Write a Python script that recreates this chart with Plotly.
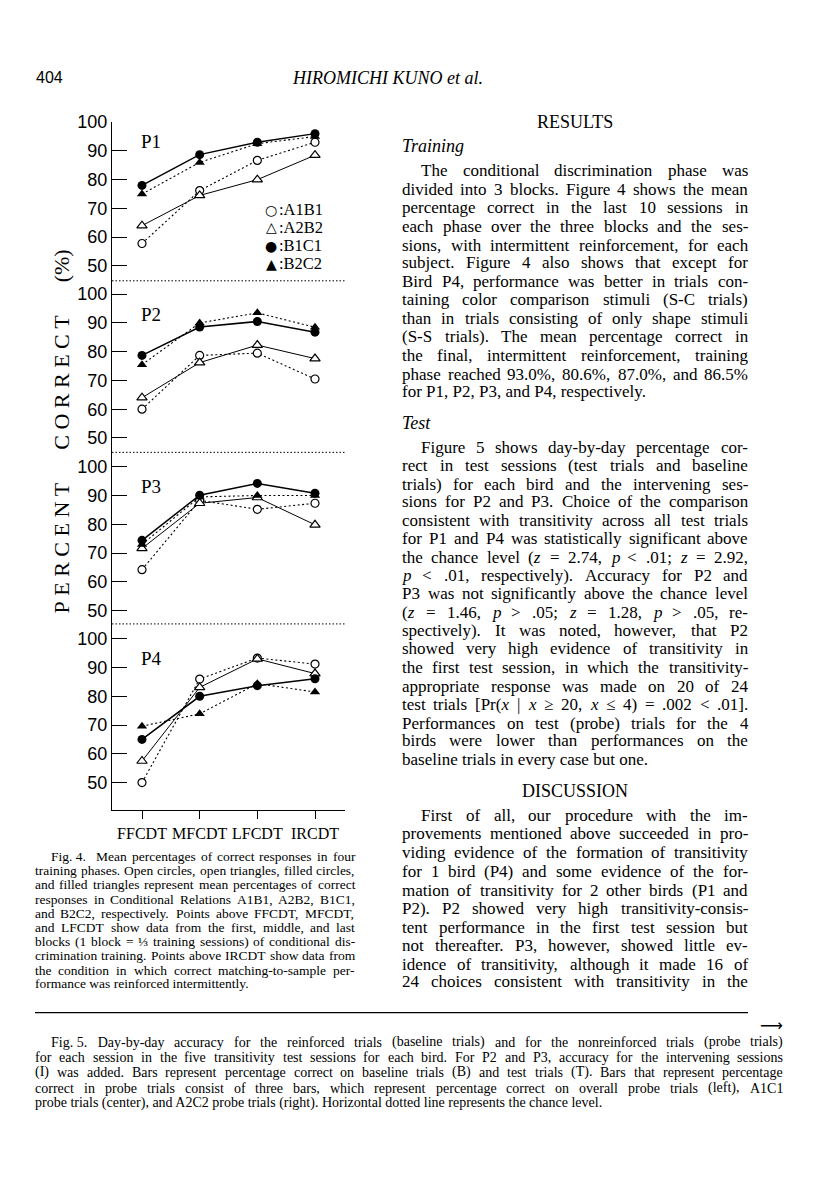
import re
import plotly.graph_objects as go

W, H = 816, 1200
OFF = 8  # the page body margin shifts the figure; compensate


def px(x):
    return (x - OFF) / W


def py(y):
    return 1 - (y - OFF) / H


# ---------------- data ----------------
categories = ["FFCDT", "MFCDT", "LFCDT", "IRCDT"]
birds = ["P1", "P2", "P3", "P4"]

p1_a1b1 = [57.8, 76.2, 86.7, 93.0]
p1_a2b2 = [64.0, 74.5, 80.0, 88.5]
p1_b1c1 = [78.0, 88.7, 93.0, 96.0]
p1_b2c2 = [75.0, 86.0, 92.5, 95.0]

p2_a1b1 = [60.0, 78.7, 79.5, 70.5]
p2_a2b2 = [64.0, 76.2, 82.3, 77.6]
p2_b1c1 = [78.7, 88.6, 90.5, 86.8]
p2_b2c2 = [75.5, 90.0, 93.5, 88.5]

p3_a1b1 = [64.2, 88.3, 85.2, 87.3]
p3_a2b2 = [71.6, 87.3, 89.3, 79.8]
p3_b1c1 = [74.4, 90.1, 94.2, 90.8]
p3_b2c2 = [73.0, 89.5, 90.0, 90.0]

p4_a1b1 = [50.0, 86.0, 93.3, 91.2]
p4_a2b2 = [57.5, 83.1, 93.0, 87.9]
p4_b1c1 = [65.0, 80.0, 83.7, 86.1]
p4_b2c2 = [69.6, 73.9, 84.4, 81.5]

series_names = ["A1B1", "A2B2", "B2C2", "B1C1"]
panel_data = [
    [p1_a1b1, p1_a2b2, p1_b2c2, p1_b1c1],
    [p2_a1b1, p2_a2b2, p2_b2c2, p2_b1c1],
    [p3_a1b1, p3_a2b2, p3_b2c2, p3_b1c1],
    [p4_a1b1, p4_a2b2, p4_b2c2, p4_b1c1],
]
y_ticks = [50, 60, 70, 80, 90, 100]

# ---------------- styles ----------------
SERIF = "Liberation Serif, Times New Roman, serif"
SANS = "Liberation Sans, Arial, sans-serif"
SYM = "DejaVu Sans, sans-serif"

styles = {
    "A1B1": dict(line=dict(color="black", width=1.1, dash="2px,2.5px"),
                 marker=dict(symbol="circle", size=8, color="white",
                             line=dict(color="black", width=1.2))),
    "A2B2": dict(line=dict(color="black", width=1.0, dash="solid"),
                 marker=dict(symbol="triangle-up", size=9, color="white",
                             line=dict(color="black", width=1.2))),
    "B2C2": dict(line=dict(color="black", width=1.1, dash="2px,2.5px"),
                 marker=dict(symbol="triangle-up", size=9, color="black",
                             line=dict(color="black", width=0))),
    "B1C1": dict(line=dict(color="black", width=1.5, dash="solid"),
                 marker=dict(symbol="circle", size=9, color="black",
                             line=dict(color="black", width=0))),
}

fig = go.Figure()

p100 = [113, 286.5, 460.5, 634]
tops = [113, 273, 446, 619]
bots = [273, 446, 619, 807]
PXU = 2.9
x0_px, x1_px = 112, 345
xc0, xc3 = 142, 315
upx = (xc3 - xc0) / 3.0
xr = [0 - (xc0 - x0_px) / upx, 3 + (x1_px - xc3) / upx]

layout = {}
for i in range(4):
    rng = [100 - (bots[i] - p100[i]) / PXU, 100 - (tops[i] - p100[i]) / PXU]
    name = "yaxis" if i == 0 else f"yaxis{i + 1}"
    layout[name] = dict(
        domain=[py(bots[i]), py(tops[i])], range=rng, anchor="x",
        showline=True, linecolor="black", linewidth=1.3,
        ticks="inside", ticklen=15, tickwidth=1.3, tickcolor="black",
        tickvals=y_ticks, tickfont=dict(family=SANS, size=18, color="black"),
        showgrid=False, zeroline=False, fixedrange=True,
    )
    yref = "y" if i == 0 else f"y{i + 1}"
    for nm, vals in zip(series_names, panel_data[i]):
        st = styles[nm]
        fig.add_trace(go.Scatter(
            x=list(range(len(categories))), y=vals, xaxis="x", yaxis=yref,
            mode="lines+markers", line=st["line"], marker=st["marker"],
            showlegend=False, cliponaxis=False, name=nm,
        ))

layout["xaxis"] = dict(
    domain=[px(x0_px), px(x1_px)], range=xr, anchor="y4",
    showline=True, linecolor="black", linewidth=1.3,
    ticks="outside", ticklen=8, tickwidth=1.3, tickcolor="black",
    tickvals=list(range(len(categories))), ticktext=categories,
    tickfont=dict(family=SERIF, size=16, color="black"),
    showgrid=False, zeroline=False, fixedrange=True,
)

shapes = []
for yy in [273, 446, 619]:
    shapes.append(dict(type="line", xref="paper", yref="paper",
                       x0=px(x0_px), x1=px(x1_px), y0=py(yy), y1=py(yy),
                       line=dict(color="black", width=1, dash="1.5px,2px")))
shapes.append(dict(type="line", xref="paper", yref="paper",
                   x0=px(35), x1=px(748), y0=py(1011), y1=py(1011),
                   line=dict(color="black", width=1.4)))

annotations = []


def ann(text, x, y, size, family=SERIF, xanchor="left", angle=0, yanchor="middle"):
    annotations.append(dict(text=text, x=px(x), y=py(y), xref="paper", yref="paper",
                            xanchor=xanchor, yanchor=yanchor, showarrow=False,
                            textangle=angle, borderpad=0, borderwidth=0,
                            font=dict(family=family, size=size, color="black")))


# panel labels
for i, b in enumerate(birds):
    ann(b, 141, p100[i] + 20, 19)

# legend
leg = [("○", ":A1B1", 201.5), ("△", ":A2B2", 219), ("●", ":B1C1", 237.5), ("▲", ":B2C2", 256)]
for s, t, yy in leg:
    ann(s, 277, yy, 14, family=SYM, xanchor="right")
    ann(t, 279, yy, 16.5)

# y-axis title
NB = "\u00a0"
ytitle = NB.join("PERCENT") + NB * 6 + NB.join("CORRECT") + NB * 6 + "(%)"
ann(ytitle, 62, 425, 22, xanchor="center", angle=-90)

# ---------------- page text ----------------
TW = {' ': 250, '\u00a0': 250, '!': 333, '"': 408, '%': 833, '&': 778, "'": 180, '(': 333, ')': 333,
      '+': 564, ',': 250, '-': 333, '.': 250, '/': 278, ':': 278, ';': 278, '<': 564,
      '=': 564, '>': 564, '?': 444, '[': 333, ']': 333, '|': 200, '≥': 549, '≤': 549,
      '⅓': 750,
      'A': 722, 'B': 667, 'C': 667, 'D': 722, 'E': 611, 'F': 556, 'G': 722, 'H': 722,
      'I': 333, 'J': 389, 'K': 722, 'L': 611, 'M': 889, 'N': 722, 'O': 722, 'P': 556,
      'Q': 722, 'R': 667, 'S': 556, 'T': 611, 'U': 722, 'V': 722, 'W': 944, 'X': 722,
      'Y': 722, 'Z': 611,
      'a': 444, 'b': 500, 'c': 444, 'd': 500, 'e': 444, 'f': 333, 'g': 500, 'h': 500,
      'i': 278, 'j': 278, 'k': 500, 'l': 278, 'm': 778, 'n': 500, 'o': 500, 'p': 500,
      'q': 500, 'r': 333, 's': 389, 't': 278, 'u': 500, 'v': 500, 'w': 722, 'x': 500,
      'y': 500, 'z': 444}


def tw(s, f):
    s = re.sub(r"<[^>]+>", "", s)
    return sum(TW.get(c, 500) for c in s) / 1000.0 * f


def line(text, x0, x1, y, f, justify=True):
    words = text.split(" ")
    if not justify or len(words) == 1:
        ann(text, x0, y, f)
        return
    em = sum(tw(w, 1) for w in words)
    fit = (x1 - x0) / (em + 0.3 * (len(words) - 1))
    fu = min(f, fit)
    ws = [tw(w, fu) for w in words]
    gap = (x1 - x0 - sum(ws)) / (len(words) - 1)
    xx = x0
    for w, wd in zip(words, ws):
        ann(w, xx, y, fu)
        xx += wd + gap


def para(lines, ys, x0, x1, f, indent, last_justified=False):
    for k, (t, yy) in enumerate(zip(lines, ys)):
        xs = x0 + (indent if k == 0 else 0)
        just = (k < len(lines) - 1) or last_justified
        line(t, xs, x1, yy, f, justify=just)


# header
ann("404", 36, 68, 16, family=SANS)
ann("<i>HIROMICHI KUNO et al.</i>", 387, 68, 18, xanchor="center")

# right column
RX0, RX1, RF = 402, 748, 17
ann("RESULTS", 575, 113, 18, xanchor="center")
ann("<i>Training</i>", RX0, 137, 18)
p1_lines = [
    "The conditional discrimination phase was",
    "divided into 3 blocks. Figure 4 shows the mean",
    "percentage correct in the last 10 sessions in",
    "each phase over the three blocks and the ses-",
    "sions, with intermittent reinforcement, for each",
    "subject. Figure 4 also shows that except for",
    "Bird P4, performance was better in trials con-",
    "taining color comparison stimuli (S-C trials)",
    "than in trials consisting of only shape stimuli",
    "(S-S trials). The mean percentage correct in",
    "the final, intermittent reinforcement, training",
    "phase reached 93.0%, 80.6%, 87.0%, and 86.5%",
    "for P1, P2, P3, and P4, respectively.",
]
p1_y = [162, 181, 199, 218, 237, 255, 274, 292, 311, 329, 348, 367, 385]
para(p1_lines, p1_y, RX0, RX1, RF, 19)

ann("<i>Test</i>", RX0, 416, 18)
p2_lines = [
    "Figure 5 shows day-by-day percentage cor-",
    "rect in test sessions (test trials and baseline",
    "trials) for each bird and the intervening ses-",
    "sions for P2 and P3. Choice of the comparison",
    "consistent with transitivity across all test trials",
    "for P1 and P4 was statistically significant above",
    "the chance level (<i>z</i> = 2.74, <i>p</i> < .01; <i>z</i> = 2.92,",
    "<i>p</i> < .01, respectively). Accuracy for P2 and",
    "P3 was not significantly above the chance level",
    "(<i>z</i> = 1.46, <i>p</i> > .05; <i>z</i> = 1.28, <i>p</i> > .05, re-",
    "spectively). It was noted, however, that P2",
    "showed very high evidence of transitivity in",
    "the first test session, in which the transitivity-",
    "appropriate response was made on 20 of 24",
    "test trials [Pr(<i>x</i> | <i>x</i> ≥ 20, <i>x</i> ≤ 4) = .002 < .01].",
    "Performances on test (probe) trials for the 4",
    "birds were lower than performances on the",
    "baseline trials in every case but one.",
]
p2_y = [441, 459, 478, 496, 515, 533, 552, 570, 588, 607, 626, 644, 663, 682, 700, 719, 737, 756]
para(p2_lines, p2_y, RX0, RX1, RF, 19)

ann("DISCUSSION", 575, 787, 18, xanchor="center")
p3_lines = [
    "First of all, our procedure with the im-",
    "provements mentioned above succeeded in pro-",
    "viding evidence of the formation of transitivity",
    "for 1 bird (P4) and some evidence of the for-",
    "mation of transitivity for 2 other birds (P1 and",
    "P2). P2 showed very high transitivity-consis-",
    "tent performance in the first test session but",
    "not thereafter. P3, however, showed little ev-",
    "idence of transitivity, although it made 16 of",
    "24 choices consistent with transitivity in the",
]
p3_y = [812, 830, 850, 869, 888, 906, 925, 943, 962, 980]
para(p3_lines, p3_y, RX0, RX1, RF, 19, last_justified=True)

# Fig. 4 caption
c4_lines = [
    "Fig.\u00a04.\u00a0\u00a0\u00a0Mean percentages of correct responses in four",
    "training phases. Open circles, open triangles, filled circles,",
    "and filled triangles represent mean percentages of correct",
    "responses in Conditional Relations A1B1, A2B2, B1C1,",
    "and B2C2, respectively. Points above FFCDT, MFCDT,",
    "and LFCDT show data from the first, middle, and last",
    "blocks (1 block = ⅓ training sessions) of conditional dis-",
    "crimination training. Points above IRCDT show data from",
    "the condition in which correct matching-to-sample per-",
    "formance was reinforced intermittently.",
]
c4_y = [854, 868, 882, 897, 911, 925, 939, 953, 968, 982]
para(c4_lines, c4_y, 35, 355, 13.5, 16)

# Fig. 5 caption
ann("⟶", 783, 1024, 16, family=SYM, xanchor="right")
c5_lines = [
    "Fig.\u00a05.\u00a0\u00a0\u00a0Day-by-day accuracy for the reinforced trials (baseline trials) and for the nonreinforced trials (probe trials)",
    "for each session in the five transitivity test sessions for each bird. For P2 and P3, accuracy for the intervening sessions",
    "(I) was added. Bars represent percentage correct on baseline trials (B) and test trials (T). Bars that represent percentage",
    "correct in probe trials consist of three bars, which represent percentage correct on overall probe trials (left), A1C1",
    "probe trials (center), and A2C2 probe trials (right). Horizontal dotted line represents the chance level.",
]
c5_y = [1041, 1056, 1071, 1087, 1102]
para(c5_lines, c5_y, 35, 783, 14, 16)

fig.update_layout(
    width=W, height=H, margin=dict(l=0, r=0, t=0, b=0),
    paper_bgcolor="white", plot_bgcolor="rgba(0,0,0,0)",
    shapes=shapes, annotations=annotations, showlegend=False,
    **layout,
)

fig.write_html("out.html")
